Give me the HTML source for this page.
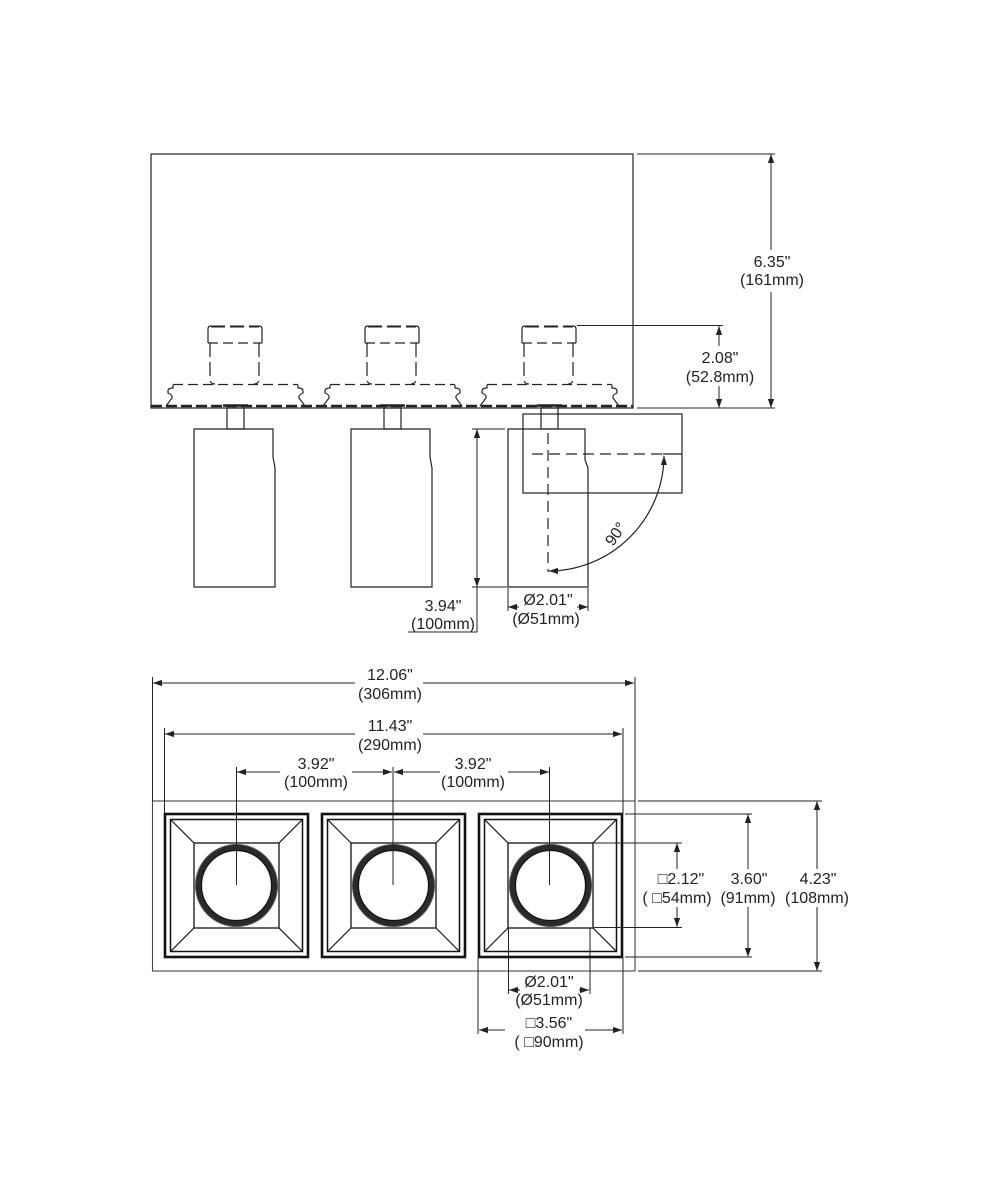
<!DOCTYPE html>
<html>
<head>
<meta charset="utf-8">
<style>
html,body{margin:0;padding:0;background:#fff;}
svg{display:block;}
text{font-family:"Liberation Sans","DejaVu Sans",sans-serif;font-size:16px;fill:#222;text-anchor:middle;}
</style>
</head>
<body>
<svg width="1000" height="1200" viewBox="0 0 1000 1200" xmlns="http://www.w3.org/2000/svg">
<defs>
  <marker id="ar" viewBox="0 0 10 7" refX="10" refY="3.5" markerWidth="9" markerHeight="6.3" markerUnits="userSpaceOnUse" orient="auto-start-reverse">
    <path d="M0,0 L10,3.5 L0,7 z" fill="#222"/>
  </marker>
  <g id="conn" fill="none" stroke="#222" stroke-width="1.2">
    <path d="M-27,343 L-27,329 Q-27,326 -24,326 M24,326 Q27,326 27,329 L27,343"/>
    <line x1="-24" y1="326.5" x2="24" y2="326.5" stroke-width="2" stroke-dasharray="14 5"/>
    <line x1="-27" y1="343" x2="27" y2="343" stroke-dasharray="10 5"/>
    <path d="M-25,343 L-25,379 Q-25,384 -20,384 M24,343 L24,379 Q24,384 19,384" stroke-dasharray="14 5"/>
    <line x1="-62" y1="384.5" x2="63" y2="384.5" stroke-dasharray="10 5"/>
    <path d="M-62,385 L-62,388 Q-67,388 -67,391 L-67,393 Q-62,395 -63,398 L-69,406"/>
    <path d="M63,385 L63,388 Q68,388 68,391 L68,393 Q63,395 64,398 L70,406"/>
    <rect x="-8" y="408" width="17" height="21"/>
    <line x1="-12" y1="405.5" x2="13" y2="405.5" stroke-width="2.5"/>
  </g>
  <g id="fix" fill="none" stroke="#222" stroke-width="1.2">
    <path d="M-41,429 L38,429 L38,457 L40,468 L40,587 L-41,587 Z"/>
  </g>
  <g id="sq" fill="none" stroke="#111">
    <rect x="-71.5" y="-71.5" width="143" height="143" stroke-width="2.6"/>
    <rect x="-66" y="-66" width="132" height="132" stroke-width="1.5"/>
    <rect x="-42.5" y="-42.5" width="85" height="85" stroke-width="1.3"/>
    <path d="M-66,-66 L-42.5,-42.5 M66,-66 L42.5,-42.5 M-66,66 L-42.5,42.5 M66,66 L42.5,42.5" stroke-width="1.2"/>
    <circle r="38" stroke-width="6" stroke="#2a2a2a"/>
    <circle r="41" stroke-width="1" stroke="#555"/>
    <circle r="35" stroke-width="1.2"/>
  </g>
</defs>

<!-- ================= TOP VIEW ================= -->
<g fill="none" stroke="#222" stroke-width="1.2">
  <rect x="151" y="154" width="482" height="254"/>
  <line x1="151" y1="406" x2="633" y2="406" stroke-width="2.5" stroke-dasharray="11 4"/>
</g>
<use href="#conn" x="235"/>
<use href="#conn" x="392"/>
<use href="#conn" x="549"/>
<use href="#fix" x="235"/>
<use href="#fix" x="392"/>

<!-- third fixture (rotated) -->
<g fill="none" stroke="#222" stroke-width="1.2">
  <rect x="523" y="414" width="159" height="79"/>
  <path d="M508,429 L585,429 L585,460 L588,468 L588,587 L508,587 Z"/>
  <line x1="532" y1="454" x2="663" y2="454" stroke-dasharray="11 6"/>
  <line x1="663" y1="454" x2="682" y2="454"/>
  <line x1="548" y1="433" x2="548" y2="572" stroke-dasharray="11 6"/>
  <path d="M664,456 A116 116 0 0 1 549,571" marker-start="url(#ar)" marker-end="url(#ar)"/>
</g>
<text transform="translate(620,537) rotate(-55)">90°</text>

<!-- 6.35 dim -->
<g fill="none" stroke="#222" stroke-width="1">
  <line x1="637" y1="154" x2="775" y2="154"/>
  <line x1="637" y1="408" x2="775" y2="408"/>
  <line x1="771" y1="250" x2="771" y2="154" marker-end="url(#ar)"/>
  <line x1="771" y1="292" x2="771" y2="408" marker-end="url(#ar)"/>
  <!-- 2.08 -->
  <line x1="577" y1="325.5" x2="723" y2="325.5"/>
  <line x1="719" y1="346" x2="719" y2="326" marker-end="url(#ar)"/>
  <line x1="719" y1="386" x2="719" y2="408" marker-end="url(#ar)"/>
  <!-- 3.94 -->
  <line x1="472" y1="429" x2="505" y2="429"/>
  <line x1="472" y1="587" x2="507" y2="587"/>
  <line x1="477" y1="500" x2="477" y2="429" marker-end="url(#ar)"/>
  <line x1="477" y1="500" x2="477" y2="587" marker-end="url(#ar)"/>
  <line x1="477" y1="587" x2="477" y2="632"/>
  <line x1="408" y1="632" x2="477" y2="632"/>
  <!-- dia 2.01 top -->
  <line x1="508" y1="588" x2="508" y2="611"/>
  <line x1="588" y1="588" x2="588" y2="611"/>
  <line x1="519" y1="607" x2="508" y2="607" marker-end="url(#ar)"/>
  <line x1="577" y1="607" x2="588" y2="607" marker-end="url(#ar)"/>
</g>
<text x="772" y="267">6.35"</text>
<text x="772" y="285">(161mm)</text>
<text x="720" y="363">2.08"</text>
<text x="720" y="382">(52.8mm)</text>
<text x="443" y="611">3.94"</text>
<text x="443" y="629">(100mm)</text>
<text x="548" y="605">Ø2.01"</text>
<text x="546" y="624">(Ø51mm)</text>

<!-- ================= BOTTOM VIEW ================= -->
<g fill="none" stroke="#444" stroke-width="1.1">
  <rect x="152.5" y="801" width="482.5" height="170"/>
</g>
<use href="#sq" x="236.5" y="885.5"/>
<use href="#sq" x="393.5" y="885.5"/>
<use href="#sq" x="550.5" y="885.5"/>

<g fill="none" stroke="#222" stroke-width="1">
  <!-- 12.06 -->
  <line x1="152.5" y1="677" x2="152.5" y2="801"/>
  <line x1="635" y1="677" x2="635" y2="801"/>
  <line x1="355" y1="683" x2="153" y2="683" marker-end="url(#ar)"/>
  <line x1="423" y1="683" x2="634" y2="683" marker-end="url(#ar)"/>
  <!-- 11.43 -->
  <line x1="164.5" y1="728" x2="164.5" y2="814"/>
  <line x1="623" y1="728" x2="623" y2="814"/>
  <line x1="355" y1="734" x2="165" y2="734" marker-end="url(#ar)"/>
  <line x1="423" y1="734" x2="622" y2="734" marker-end="url(#ar)"/>
  <!-- 3.92 x2 -->
  <line x1="236.5" y1="767" x2="236.5" y2="885"/>
  <line x1="393" y1="767" x2="393" y2="885"/>
  <line x1="549.5" y1="767" x2="549.5" y2="885"/>
  <line x1="280" y1="772" x2="237" y2="772" marker-end="url(#ar)"/>
  <line x1="352" y1="772" x2="392" y2="772" marker-end="url(#ar)"/>
  <line x1="440" y1="772" x2="394" y2="772" marker-end="url(#ar)"/>
  <line x1="508" y1="772" x2="549" y2="772" marker-end="url(#ar)"/>
  <!-- 4.23 -->
  <line x1="638" y1="801" x2="822" y2="801"/>
  <line x1="638" y1="971" x2="822" y2="971"/>
  <line x1="817" y1="869" x2="817" y2="801" marker-end="url(#ar)"/>
  <line x1="817" y1="907" x2="817" y2="971" marker-end="url(#ar)"/>
  <!-- 3.60 -->
  <line x1="625" y1="814" x2="752" y2="814"/>
  <line x1="625" y1="957" x2="752" y2="957"/>
  <line x1="748" y1="869" x2="748" y2="814" marker-end="url(#ar)"/>
  <line x1="748" y1="907" x2="748" y2="957" marker-end="url(#ar)"/>
  <!-- 2.12 -->
  <line x1="594" y1="843" x2="682" y2="843"/>
  <line x1="594" y1="927.5" x2="682" y2="927.5"/>
  <line x1="677" y1="869" x2="677" y2="843" marker-end="url(#ar)"/>
  <line x1="677" y1="907" x2="677" y2="927" marker-end="url(#ar)"/>
  <!-- dia 2.01 bottom -->
  <line x1="508.5" y1="928" x2="508.5" y2="994"/>
  <line x1="590" y1="928" x2="590" y2="994"/>
  <line x1="520" y1="990" x2="509" y2="990" marker-end="url(#ar)"/>
  <line x1="579" y1="990" x2="589" y2="990" marker-end="url(#ar)"/>
  <!-- 3.56 -->
  <line x1="478" y1="958" x2="478" y2="1034"/>
  <line x1="623" y1="958" x2="623" y2="1034"/>
  <line x1="505" y1="1030" x2="479" y2="1030" marker-end="url(#ar)"/>
  <line x1="585" y1="1030" x2="622" y2="1030" marker-end="url(#ar)"/>
</g>

<text x="390" y="680">12.06"</text>
<text x="390" y="699">(306mm)</text>
<text x="390" y="731">11.43"</text>
<text x="390" y="750">(290mm)</text>
<text x="316" y="769">3.92"</text>
<text x="316" y="787">(100mm)</text>
<text x="473" y="769">3.92"</text>
<text x="473" y="787">(100mm)</text>
<text x="681" y="884">□2.12"</text>
<text x="677" y="903">( □54mm)</text>
<text x="749" y="884">3.60"</text>
<text x="748" y="903">(91mm)</text>
<text x="818" y="884">4.23"</text>
<text x="817" y="903">(108mm)</text>
<text x="549" y="987">Ø2.01"</text>
<text x="549" y="1005">(Ø51mm)</text>
<text x="549" y="1028">□3.56"</text>
<text x="549" y="1047">( □90mm)</text>
</svg>
</body>
</html>
